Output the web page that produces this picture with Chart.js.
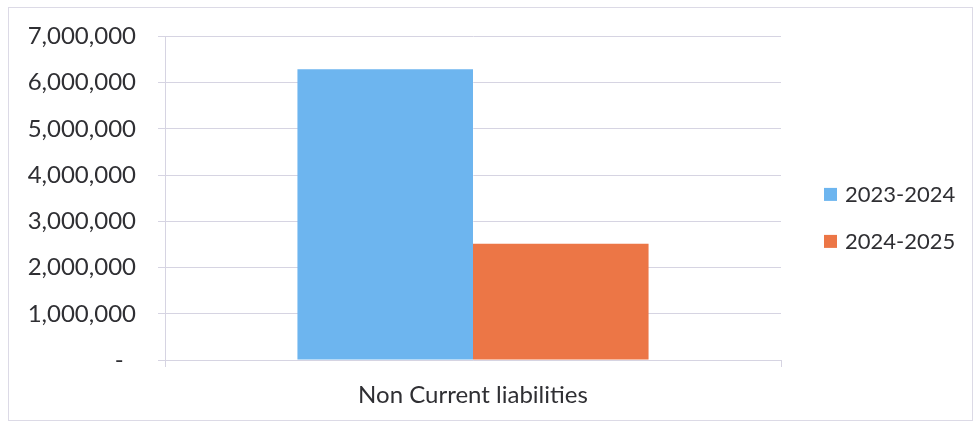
<!DOCTYPE html>
<html>
<head>
<meta charset="utf-8">
<script src="https://cdn.jsdelivr.net/npm/chart.js@4"></script>
<style>
  html, body { margin: 0; padding: 0; background: #ffffff; }
  #wrap { width: 974px; height: 424px; position: relative; }
</style>
</head>
<body>
<div id="wrap"><canvas id="chart" width="974" height="424"></canvas></div>
<script>
// Balance sheet comparison: non current liabilities by financial year
const categories = ['Non Current liabilities'];
const seriesLabels = ['2023-2024', '2024-2025'];
const values2023_2024 = [6290000];
const values2024_2025 = [2515000];
const yTicks = [0, 1000000, 2000000, 3000000, 4000000, 5000000, 6000000, 7000000];

const seriesColors = ['#6db5ef', '#ec7646'];
const gridColor = '#d6d4e2';
const textColor = '#2f2f33';
const fontFamily = 'Lato, "Open Sans", sans-serif';

// light frame around the whole chart
const framePlugin = {
  id: 'frame',
  beforeDraw(chart) {
    const ctx = chart.ctx;
    ctx.save();
    ctx.strokeStyle = '#dcdae6';
    ctx.lineWidth = 1;
    ctx.strokeRect(8.5, 7.5, 964, 413);
    ctx.restore();
  }
};

// legend on the right, one row per dataset
const sideLegend = {
  id: 'sideLegend',
  afterDraw(chart) {
    const ctx = chart.ctx;
    const area = chart.chartArea;
    ctx.save();
    ctx.font = '22px ' + fontFamily;
    ctx.textBaseline = 'middle';
    ctx.textAlign = 'left';
    chart.data.datasets.forEach((ds, i) => {
      const y = area.top + 158 + i * 47;
      ctx.fillStyle = ds.backgroundColor;
      ctx.fillRect(area.right + 43, y - 6.5, 13, 13);
      ctx.fillStyle = textColor;
      ctx.fillText(ds.label, area.right + 64, y + 1);
    });
    ctx.restore();
  }
};

new Chart(document.getElementById('chart'), {
  type: 'bar',
  data: {
    labels: categories,
    datasets: [
      { label: seriesLabels[0], data: values2023_2024, backgroundColor: seriesColors[0] },
      { label: seriesLabels[1], data: values2024_2025, backgroundColor: seriesColors[1] }
    ]
  },
  options: {
    responsive: false,
    animation: false,
    devicePixelRatio: 1,
    layout: { padding: { left: 8, top: 36, right: 193, bottom: 0 } },
    datasets: { bar: { categoryPercentage: 0.57, barPercentage: 1 } },
    plugins: {
      legend: { display: false },
      tooltip: { enabled: false }
    },
    scales: {
      x: {
        offset: true,
        grid: { display: true, drawOnChartArea: false, color: gridColor, tickLength: 7, offset: true },
        border: { display: true, color: gridColor },
        ticks: { color: textColor, font: { family: fontFamily, size: 24 }, padding: 14 },
        afterFit(scale) { scale.height = 64; }
      },
      y: {
        min: 0,
        max: 7000000,
        afterBuildTicks(scale) { scale.ticks = yTicks.map(v => ({ value: v })); },
        grid: { color: gridColor, tickLength: 7 },
        border: { display: true, color: gridColor },
        ticks: {
          color: textColor,
          font: { family: fontFamily, size: 24 },
          padding: 22,
          callback(v) { return v === 0 ? '-  ' : v.toLocaleString('en-US'); }
        },
        afterFit(scale) { scale.width = 157; }
      }
    }
  },
  plugins: [framePlugin, sideLegend]
});
</script>
</body>
</html>
